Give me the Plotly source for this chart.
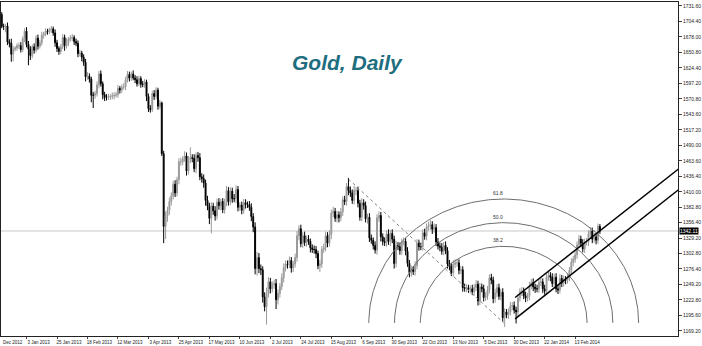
import numpy as np
import plotly.graph_objects as go

# ---------------- data ----------------
first_open = 1717.0
closes = [
    1696, 1696, 1697, 1669, 1667, 1648, 1657, 1659, 1663, 1663,
    1656, 1675, 1688, 1665, 1657, 1646, 1661, 1655, 1676, 1662,
    1668, 1681, 1683, 1688, 1687, 1691, 1692, 1685, 1668, 1658,
    1653, 1661, 1677, 1663, 1668, 1674, 1676, 1677, 1670, 1667,
    1649, 1650, 1643, 1634, 1609, 1610, 1605, 1577, 1577, 1580,
    1595, 1614, 1597, 1578, 1573, 1573, 1575, 1575, 1576, 1577,
    1578, 1589, 1586, 1591, 1592, 1604, 1613, 1607, 1614, 1607,
    1604, 1597, 1606, 1596, 1596, 1600, 1575, 1554, 1552, 1580,
    1575, 1586, 1558, 1564, 1476, 1350, 1368, 1378, 1393, 1403,
    1423, 1408, 1431, 1462, 1462, 1467, 1472, 1446, 1467, 1469,
    1468, 1450, 1473, 1469, 1436, 1433, 1425, 1395, 1385, 1364,
    1385, 1377, 1368, 1392, 1386, 1393, 1379, 1391, 1412, 1393,
    1411, 1398, 1398, 1414, 1383, 1387, 1378, 1391, 1388, 1388,
    1383, 1367, 1349, 1277, 1296, 1277, 1275, 1228, 1211, 1234,
    1254, 1242, 1249, 1251, 1223, 1234, 1246, 1261, 1279, 1285,
    1284, 1291, 1278, 1285, 1296, 1334, 1346, 1320, 1334, 1322,
    1328, 1324, 1313, 1310, 1310, 1303, 1282, 1285, 1310, 1313,
    1334, 1321, 1336, 1373, 1376, 1364, 1370, 1365, 1375, 1396,
    1393, 1419, 1412, 1408, 1395, 1412, 1412, 1390, 1366, 1391,
    1386, 1363, 1366, 1330, 1326, 1317, 1309, 1365, 1369, 1332,
    1324, 1322, 1337, 1324, 1338, 1328, 1286, 1317, 1315, 1308,
    1323, 1324, 1307, 1286, 1270, 1275, 1272, 1282, 1321, 1315,
    1315, 1339, 1333, 1349, 1351, 1353, 1345, 1348, 1323, 1316,
    1314, 1307, 1317, 1308, 1285, 1281, 1270, 1284, 1287, 1287,
    1274, 1275, 1244, 1243, 1244, 1241, 1242, 1237, 1244, 1250,
    1221, 1245, 1242, 1227, 1230, 1240, 1261, 1257, 1225, 1235,
    1244, 1229, 1236, 1192, 1202, 1197, 1202, 1212, 1213, 1205,
    1202, 1226, 1237, 1238, 1230, 1226, 1229, 1247, 1253, 1245,
    1242, 1242, 1253, 1254, 1242, 1238, 1262, 1265, 1262, 1251,
    1262, 1242, 1240, 1260, 1252, 1258, 1257, 1262, 1274, 1288,
    1293, 1301, 1318, 1328, 1321, 1311, 1323, 1323, 1337, 1342,
    1328, 1332, 1326, 1350, 1342,
]
upper_wick = [
    4, 5, 4, 6, 5, 8, 5, 3, 4, 5,
    6, 4, 5, 7, 6, 5, 4, 6, 5, 6,
    5, 6, 4, 5, 4, 3, 5, 4, 6, 5,
    4, 5, 6, 5, 8, 4, 5, 6, 4, 5,
    5, 6, 4, 5, 6, 7, 5, 4, 6, 5,
    6, 5, 6, 4, 5, 6, 5, 4, 6, 5,
    5, 6, 4, 5, 6, 5, 6, 5, 4, 6,
    5, 6, 5, 4, 6, 5, 4, 5, 6, 5,
    6, 5, 4, 5, 2, 5, 8, 6, 7, 6,
    6, 7, 5, 6, 7, 5, 8, 6, 5, 18,
    6, 7, 5, 6, 8, 6, 7, 6, 8, 6,
    7, 6, 8, 6, 7, 5, 6, 7, 8, 6,
    7, 6, 8, 7, 6, 5, 6, 7, 6, 5,
    6, 7, 6, 8, 10, 8, 7, 6, 8, 10,
    8, 7, 6, 7, 8, 7, 6, 8, 7, 6,
    6, 7, 6, 5, 7, 8, 6, 7, 6, 7,
    6, 7, 5, 6, 7, 6, 5, 7, 6, 7,
    7, 6, 7, 6, 8, 6, 7, 6, 7, 6,
    7, 6, 15, 7, 6, 8, 6, 7, 6, 8,
    6, 7, 6, 7, 6, 5, 7, 6, 7, 6,
    6, 7, 6, 8, 6, 7, 6, 8, 6, 7,
    6, 7, 6, 7, 6, 7, 6, 8, 7, 6,
    7, 6, 7, 6, 7, 8, 6, 7, 6, 7,
    6, 7, 6, 7, 6, 7, 6, 7, 6, 7,
    6, 7, 6, 7, 6, 5, 6, 7, 6, 7,
    6, 7, 6, 7, 6, 7, 6, 7, 6, 7,
    6, 7, 6, 7, 6, 5, 6, 7, 6, 7,
    6, 7, 6, 7, 6, 7, 6, 7, 6, 7,
    6, 7, 6, 7, 6, 7, 6, 7, 6, 7,
    6, 7, 6, 7, 6, 7, 6, 7, 6, 7,
    6, 7, 6, 7, 6, 7, 6, 7, 6, 7,
    6, 7, 6, 5, 4,
]
lower_wick = [
    3, 6, 10, 5, 7, 13, 12, 4, 5, 6,
    5, 4, 6, 5, 28, 8, 5, 6, 4, 6,
    4, 5, 6, 4, 5, 4, 6, 5, 7, 6,
    6, 5, 4, 9, 5, 6, 4, 5, 6, 5,
    6, 5, 7, 6, 8, 5, 6, 12, 22, 6,
    5, 6, 5, 8, 6, 5, 4, 6, 5, 6,
    4, 5, 6, 5, 4, 6, 5, 6, 5, 4,
    6, 5, 4, 6, 5, 6, 8, 6, 5, 4,
    6, 5, 6, 5, 4, 29, 22, 10, 8, 7,
    6, 7, 6, 8, 7, 6, 5, 8, 6, 7,
    7, 6, 8, 7, 6, 7, 8, 9, 7, 10,
    26, 7, 8, 6, 7, 8, 6, 7, 6, 7,
    6, 7, 6, 8, 7, 6, 7, 6, 7, 6,
    6, 8, 9, 10, 12, 8, 9, 10, 8, 31,
    7, 8, 6, 7, 16, 8, 7, 6, 8, 7,
    7, 6, 8, 7, 6, 7, 8, 6, 7, 6,
    7, 6, 8, 6, 7, 8, 6, 11, 7, 6,
    6, 7, 6, 8, 7, 6, 7, 8, 6, 7,
    6, 7, 8, 7, 6, 7, 8, 7, 6, 7,
    7, 6, 8, 7, 6, 7, 6, 8, 7, 8,
    7, 6, 7, 6, 8, 7, 9, 7, 6, 7,
    7, 6, 7, 6, 8, 7, 6, 7, 6, 7,
    6, 7, 6, 7, 6, 7, 8, 6, 7, 6,
    7, 6, 7, 6, 8, 7, 6, 7, 6, 7,
    7, 6, 7, 6, 7, 6, 7, 6, 7, 6,
    8, 7, 6, 7, 6, 7, 6, 7, 8, 7,
    7, 6, 7, 7, 16, 6, 7, 6, 7, 6,
    20, 7, 6, 7, 6, 7, 6, 7, 6, 7,
    7, 6, 7, 6, 7, 6, 7, 6, 7, 6,
    7, 6, 7, 6, 7, 6, 7, 6, 7, 6,
    7, 6, 7, 6, 7, 6, 7, 6, 7, 6,
    7, 6, 7, 6, 5,
]

date_tick_bars = [14, 30, 46, 62, 78, 94, 110, 126, 142, 158, 174, 190,
                  206, 222, 238, 254, 270, 286, 302]
date_tick_labels = ["3 Jan 2013", "25 Jan 2013", "18 Feb 2013", "12 Mar 2013",
                    "3 Apr 2013", "25 Apr 2013", "17 May 2013", "10 Jun 2013",
                    "2 Jul 2013", "24 Jul 2013", "15 Aug 2013", "6 Sep 2013",
                    "30 Sep 2013", "22 Oct 2013", "13 Nov 2013", "5 Dec 2013",
                    "30 Dec 2013", "22 Jan 2014", "13 Feb 2014"]
first_date_label = "Dec 2012"

price_ticks = [1731.60, 1704.40, 1678.00, 1650.80, 1624.40, 1597.20, 1570.80,
               1543.60, 1517.20, 1490.00, 1463.60, 1436.40, 1410.00, 1382.80,
               1356.40, 1329.20, 1302.80, 1276.40, 1249.20, 1222.80, 1195.60,
               1169.20]
current_price = 1342.11

# channel (two parallel rays)
channel_x = [270.5, 358.0]
channel_upper = [1227.0, 1454.0]
channel_lower = [1190.0, 1418.0]

# Fibonacci arcs: trend line from swing high to swing low
fib_x = [183.0, 264.5]
fib_y = [1432.0, 1183.0]
fib_levels = [38.2, 50.0, 61.8]
arc_base_rx = 114.6   # bars
arc_base_ry = 347.0   # price

# ---------------- figure ----------------
bars = list(range(1, len(closes) + 1))
opens = [first_open] + closes[:-1]
highs = [max(o, c) + u for o, c, u in zip(opens, closes, upper_wick)]
lows = [min(o, c) - w for o, c, w in zip(opens, closes, lower_wick)]

SMALL = dict(size=4.5, color="#222222", family="Liberation Sans, Arial")

fig = go.Figure()

fig.add_shape(type="line", xref="paper", x0=0, x1=1, yref="y",
              y0=current_price, y1=current_price,
              line=dict(color="#c8c8c8", width=1), layer="below")

# fib arcs
cx, cy = fib_x[1], fib_y[1]
theta = np.linspace(0, np.pi, 240)
for lv in fib_levels:
    r = lv / 100.0
    fig.add_trace(go.Scatter(
        x=cx + r * arc_base_rx * np.cos(theta),
        y=cy + r * arc_base_ry * np.sin(theta),
        mode="lines", line=dict(color="#6e6e6e", width=1),
        hoverinfo="skip", showlegend=False))
    fig.add_annotation(x=cx - 3, y=cy + r * arc_base_ry, text=f"{lv:.1f}",
                       showarrow=False, yanchor="bottom", yshift=1,
                       font=dict(size=5, color="#333333", family="Liberation Sans, Arial"))

fig.add_trace(go.Scatter(x=fib_x, y=fib_y, mode="lines",
                         line=dict(color="#808080", width=1, dash="dot"),
                         hoverinfo="skip", showlegend=False))

fig.add_trace(go.Candlestick(
    x=bars, open=opens, high=highs, low=lows, close=closes,
    increasing=dict(line=dict(color="#9a9a9a", width=1), fillcolor="#9a9a9a"),
    decreasing=dict(line=dict(color="#000000", width=1), fillcolor="#000000"),
    whiskerwidth=0, hoverinfo="skip", showlegend=False))

for ys in (channel_upper, channel_lower):
    fig.add_trace(go.Scatter(x=channel_x, y=ys, mode="lines",
                             line=dict(color="#000000", width=1.5),
                             hoverinfo="skip", showlegend=False))

fig.add_annotation(xref="paper", x=1.0, y=current_price, text=f"{current_price:.2f}",
                   showarrow=False, xanchor="left", xshift=1,
                   bgcolor="#000000", borderpad=0,
                   font=dict(size=5, color="#ffffff", family="Liberation Sans, Arial"))

fig.add_annotation(xref="paper", yref="paper", x=0.0, y=0.0, text=first_date_label,
                   showarrow=False, xanchor="left", yanchor="top", yshift=-2,
                   font=SMALL)

fig.add_annotation(xref="paper", yref="paper", x=0.512, y=0.82,
                   xanchor="center", yanchor="middle",
                   text="<b><i>Gold, Daily</i></b>", showarrow=False,
                   font=dict(size=21, color="#1e6e80", family="Liberation Sans, Arial"))

fig.update_layout(
    width=702, height=346,
    margin=dict(l=1, r=24, t=2, b=10, autoexpand=False),
    paper_bgcolor="#ffffff", plot_bgcolor="#ffffff",
    showlegend=False,
    xaxis=dict(range=[0.6, 356], rangeslider=dict(visible=False),
               tickvals=date_tick_bars, ticktext=date_tick_labels,
               tickangle=0, automargin=False,
               ticks="outside", ticklen=2, tickcolor="#444444",
               tickfont=SMALL,
               ticklabelshift=12, ticklabelstandoff=0,
               showgrid=False, zeroline=False,
               showline=True, linecolor="#222222", linewidth=1, mirror=True),
    yaxis=dict(range=[1160.3, 1738.5], side="right", automargin=False,
               tickvals=price_ticks, ticktext=[f"{v:.2f}" for v in price_ticks],
               ticks="outside", ticklen=3, tickcolor="#444444",
               tickfont=dict(size=5, color="#222222", family="Liberation Sans, Arial"),
               ticklabelstandoff=0,
               showgrid=False, zeroline=False,
               showline=True, linecolor="#222222", linewidth=1, mirror=True),
)

fig.write_html("out.html")
